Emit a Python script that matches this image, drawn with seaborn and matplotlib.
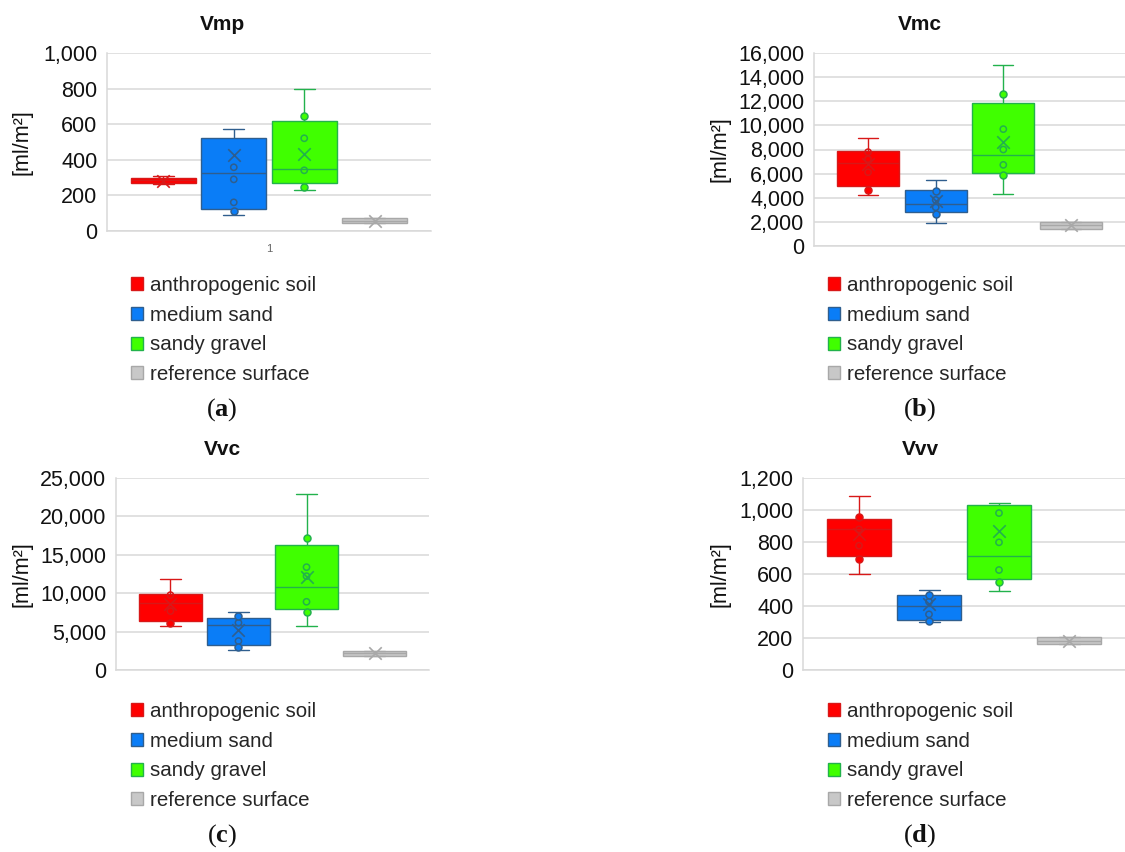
import warnings
warnings.filterwarnings("ignore")
import numpy as np
import pandas as pd
import matplotlib
matplotlib.use("Agg")
import matplotlib.pyplot as plt
import matplotlib.patches as mpatches
import matplotlib.ticker as mticker
import seaborn as sns

GROUPS = ["anthropogenic soil", "medium sand", "sandy gravel", "reference surface"]

# ---- Vmp ----
VMP_LOW = [262, 92, 228, 43]
VMP_Q1 = [268, 124, 272, 43]
VMP_MED = [285, 324, 346, 58]
VMP_Q3 = [300, 522, 616, 73]
VMP_HIGH = [308, 575, 800, 73]
VMP_MEAN = [283, 425, 434, 58]
VMP_OPEN = [[], [358, 290, 161], [521, 341], []]
VMP_FILLED = [[], [114], [648, 249], []]

# ---- Vmc ----
VMC_LOW = [4235, 1882, 4290, 1412]
VMC_Q1 = [4983, 2796, 6090, 1412]
VMC_MED = [6865, 3515, 7529, 1716]
VMC_Q3 = [7889, 4623, 11820, 2021]
VMC_HIGH = [8941, 5481, 14975, 2021]
VMC_MEAN = [6810, 3765, 8609, 1716]
VMC_OPEN = [[7778, 7197, 6117], [3820, 3211], [9688, 8000, 6726], []]
VMC_FILLED = [[4623], [4595, 2685], [12567, 5896], []]

# ---- Vvc ----
VVC_LOW = [5720, 2600, 5720, 1820]
VVC_Q1 = [6413, 3207, 7930, 1820]
VVC_MED = [8710, 5807, 10833, 2167]
VVC_Q3 = [9923, 6803, 16250, 2470]
VVC_HIGH = [11786, 7583, 22922, 2470]
VVC_MEAN = [8580, 5200, 12133, 2167]
VVC_OPEN = [[9750, 7670], [6153, 3770], [13390, 12220, 8883], []]
VVC_FILLED = [[6110], [7020, 2946], [17245, 7583], []]

# ---- Vvv ----
VVV_LOW = [602, 300, 494, 162]
VVV_Q1 = [710, 315, 567, 162]
VVV_MED = [881, 400, 715, 183]
VVV_Q3 = [942, 467, 1029, 204]
VVV_HIGH = [1085, 502, 1046, 204]
VVV_MEAN = [850, 410, 867, 183]
VVV_OPEN = [[879, 777], [427, 348], [981, 798, 625], []]
VVV_FILLED = [[956, 692], [471, 306], [550], []]

TITLES = ["Vmp", "Vmc", "Vvc", "Vvv"]
CAPTIONS = ["a", "b", "c", "d"]
Y_MAX = [1000, 16000, 25000, 1200]
Y_STEP = [200, 2000, 5000, 200]

# styling
FILLS = ["#FF0000", "#0A7DF7", "#40FF00", "#C8C8C8"]
EDGES = ["#D81818", "#2F5E8E", "#22B24C", "#A8A8A8"]
GRID = "#D9D9D9"

sns.set_theme(style="white")
plt.rcParams["font.family"] = ["Liberation Sans", "DejaVu Sans"]
plt.rcParams["mathtext.fontset"] = "custom"
plt.rcParams["mathtext.rm"] = "Liberation Serif"
plt.rcParams["mathtext.bf"] = "Liberation Serif:bold"

W, H = 1125, 852
fig = plt.figure(figsize=(W / 100, H / 100), dpi=100)


def rect(x, top, w, h):
    return [x / W, 1 - (top + h) / H, w / W, h / H]


# layout in pixels: axes (left, top, width, height), title xy, ylabel x, legend xy, caption xy
LAYOUT = [
    dict(ax=(107, 53, 324, 178), title=(222, 25), ylab=33, leg=(131, 276), cap=(222, 410)),
    dict(ax=(814, 53, 311, 193), title=(920, 25), ylab=730, leg=(828, 276), cap=(920, 410)),
    dict(ax=(116, 478, 313, 192), title=(222, 450), ylab=32, leg=(131, 702), cap=(222, 836)),
    dict(ax=(803, 478, 322, 192), title=(920, 450), ylab=730, leg=(828, 702), cap=(920, 836)),
]

PANELS = [
    (VMP_LOW, VMP_Q1, VMP_MED, VMP_Q3, VMP_HIGH, VMP_MEAN, VMP_OPEN, VMP_FILLED),
    (VMC_LOW, VMC_Q1, VMC_MED, VMC_Q3, VMC_HIGH, VMC_MEAN, VMC_OPEN, VMC_FILLED),
    (VVC_LOW, VVC_Q1, VVC_MED, VVC_Q3, VVC_HIGH, VVC_MEAN, VVC_OPEN, VVC_FILLED),
    (VVV_LOW, VVV_Q1, VVV_MED, VVV_Q3, VVV_HIGH, VVV_MEAN, VVV_OPEN, VVV_FILLED),
]

for p, (low, q1, med, q3, high, mean, opn, filled) in enumerate(PANELS):
    lay = LAYOUT[p]
    x0, top, w, h = lay["ax"]
    ax = fig.add_axes(rect(x0, top, w, h))

    for i, g in enumerate(GROUPS):
        df = pd.DataFrame({"group": [g] * 5,
                           "value": [low[i], q1[i], med[i], q3[i], high[i]]})
        sns.boxplot(data=df, x="group", y="value", order=GROUPS, color=FILLS[i],
                    linecolor=EDGES[i], linewidth=1.0, width=0.92, whis=(0, 100),
                    saturation=1, fliersize=0, capwidths=0.3, ax=ax, zorder=2)
        if opn[i]:
            sns.stripplot(x=[g] * len(opn[i]), y=opn[i], order=GROUPS, jitter=False,
                          marker="o", size=4.5, facecolor="none", edgecolor=EDGES[i],
                          linewidth=1.1, ax=ax, zorder=4)
        if filled[i]:
            sns.stripplot(x=[g] * len(filled[i]), y=filled[i], order=GROUPS, jitter=False,
                          marker="o", size=5, color=FILLS[i], edgecolor=EDGES[i],
                          linewidth=1.1, ax=ax, zorder=4)
        sns.stripplot(x=[g], y=[mean[i]], order=GROUPS, jitter=False, marker="x",
                      size=9, color=EDGES[i], linewidth=1.2, ax=ax, zorder=5)

    ax.set_xlim(-0.8, 3.8)
    ax.set_ylim(0, Y_MAX[p])
    ax.set_yticks(np.arange(0, Y_MAX[p] + 1, Y_STEP[p]))
    ax.yaxis.set_major_formatter(mticker.StrMethodFormatter("{x:,.0f}"))
    ax.tick_params(axis="y", length=0, pad=7, labelsize=15.5, labelcolor="#111111")
    if p == 0:
        ax.set_xticks([1.5])
        ax.set_xticklabels(["1"])
        ax.tick_params(axis="x", length=0, pad=9, labelsize=8, labelcolor="#666666")
    else:
        ax.set_xticks([])
    ax.set_xlabel("")
    ax.set_ylabel("[ml/m²]", fontsize=15.5, color="#111111")
    ax.yaxis.set_label_coords((lay["ylab"] - x0) / w, 0.5)
    ax.yaxis.grid(True, color=GRID, lw=1.1, zorder=0)
    ax.set_axisbelow(True)
    for s in ["top", "right"]:
        ax.spines[s].set_visible(False)
    for s in ["left", "bottom"]:
        ax.spines[s].set_visible(True)
        ax.spines[s].set_color(GRID)
        ax.spines[s].set_linewidth(1.1)
    if ax.get_legend():
        ax.get_legend().remove()

    tx, ty = lay["title"]
    fig.text(tx / W, 1 - ty / H, TITLES[p], ha="center", va="center",
             fontsize=15, fontweight="bold", color="#111111")

    handles = [mpatches.Patch(facecolor=FILLS[i], edgecolor=EDGES[i], lw=1.0, label=GROUPS[i])
               for i in range(4)]
    lx, ly = lay["leg"]
    fig.legend(handles=handles, loc="upper left", bbox_to_anchor=(lx / W, 1 - ly / H),
               frameon=False, borderpad=0, borderaxespad=0, handlelength=0.58,
               handleheight=0.58, handletextpad=0.33, labelspacing=0.52, fontsize=14.8)

    cx, cy = lay["cap"]
    fig.text(cx / W, 1 - cy / H, "($\\mathbf{%s}$)" % CAPTIONS[p], ha="center", va="center",
             fontsize=19, family="Liberation Serif", color="#111111")

fig.savefig("out.png", dpi=100, facecolor="white")
